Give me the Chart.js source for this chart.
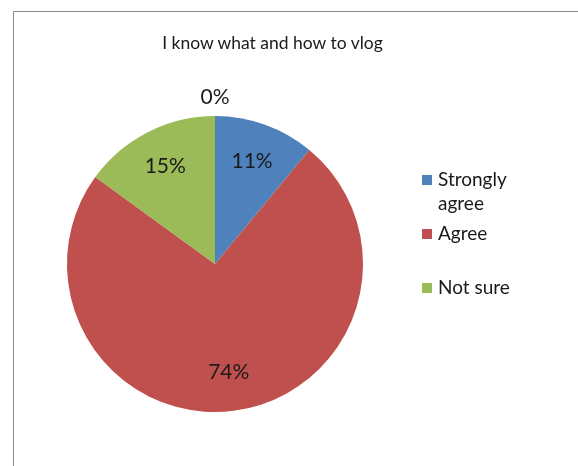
<!DOCTYPE html>
<html lang="en">
<head>
    <meta charset="UTF-8">
    <title>I know what and how to vlog</title>
    <style>
        body {
            margin: 0;
            background: #fff;
            font-family: Lato, 'Open Sans', sans-serif;
            overflow: hidden;
        }
        .frame {
            position: absolute;
            left: 13px;
            top: 11px;
            width: 600px;
            height: 500px;
            border: 1.5px solid #8c8c8c;
        }
        .wrap {
            position: absolute;
            left: 0;
            top: 0;
            width: 578px;
            height: 466px;
        }
        .title {
            position: absolute;
            left: 0;
            width: 545px;
            top: 32px;
            text-align: center;
            font-size: 17.5px;
            color: #1a1a1a;
        }
        .legend {
            position: absolute;
            left: 422px;
            top: 167px;
            width: 110px;
            font-size: 19px;
            color: #1a1a1a;
        }
        .legend-item {
            position: relative;
            padding-left: 16px;
            line-height: 24px;
            height: 54px;
        }
        .legend-box {
            position: absolute;
            left: 0;
            top: 8px;
            width: 10px;
            height: 10px;
        }
    </style>
    <script src="https://cdn.jsdelivr.net/npm/chart.js"></script>
</head>
<body>
    <div class="frame"></div>
    <div class="wrap">
        <canvas id="pieChart" width="578" height="466"></canvas>
    </div>
    <div class="title">I know what and how to vlog</div>
    <div class="legend" id="legend"></div>

    <script>
        // Survey answers (percent)
        const categories = ['Strongly agree', 'Agree', 'Not sure', 'Disagree'];
        const values = [11, 74, 15, 0];
        const colors = ['#4f81bd', '#c0504d', '#9bbb59', '#8064a2'];
        const legendItems = [0, 1, 2]; // zero slice not listed in legend

        // percent labels on the slices
        const sliceLabels = {
            id: 'sliceLabels',
            afterDatasetsDraw(chart) {
                const ctx = chart.ctx;
                const meta = chart.getDatasetMeta(0);
                ctx.save();
                ctx.font = '21px Lato, sans-serif';
                ctx.fillStyle = '#1a1a1a';
                ctx.textAlign = 'center';
                ctx.textBaseline = 'middle';
                meta.data.forEach((arc, i) => {
                    const p = arc.getProps(['x', 'y', 'startAngle', 'endAngle', 'outerRadius']);
                    const mid = (p.startAngle + p.endAngle) / 2;
                    let r = p.outerRadius * 0.74;
                    if (values[i] === 0) r = p.outerRadius + 19;
                    const x = p.x + Math.cos(mid) * r;
                    const y = p.y + Math.sin(mid) * r;
                    ctx.fillText(values[i] + '%', x, y);
                });
                ctx.restore();
            }
        };

        const ctx = document.getElementById('pieChart').getContext('2d');
        new Chart(ctx, {
            type: 'pie',
            data: {
                labels: categories,
                datasets: [{
                    data: values,
                    backgroundColor: colors,
                    borderWidth: 0
                }]
            },
            options: {
                responsive: false,
                animation: false,
                layout: {
                    padding: { left: 67, right: 215, top: 116, bottom: 54 }
                },
                plugins: {
                    legend: { display: false },
                    title: { display: false },
                    tooltip: { enabled: false }
                }
            },
            plugins: [sliceLabels]
        });

        // legend on the right
        const legend = document.getElementById('legend');
        legendItems.forEach(i => {
            const item = document.createElement('div');
            item.className = 'legend-item';
            item.innerHTML = '<span class="legend-box" style="background:' + colors[i] + '"></span>' + categories[i];
            legend.appendChild(item);
        });
    </script>
</body>
</html>
